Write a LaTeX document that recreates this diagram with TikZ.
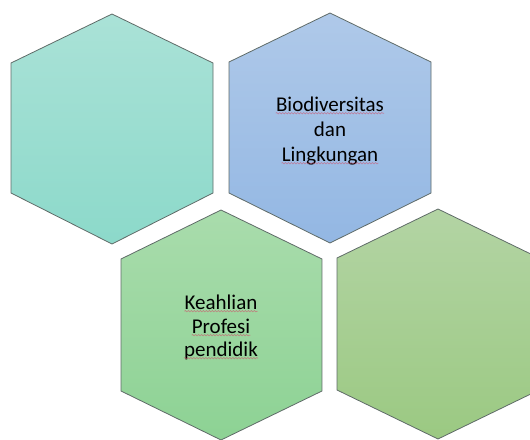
\documentclass[tikz,border=0pt]{standalone}
\usepackage{fontspec}
\setmainfont{Carlito}
\usetikzlibrary{decorations.pathmorphing}
\definecolor{tealtop}{HTML}{AAE2D7}\definecolor{tealbot}{HTML}{8CD9CA}
\definecolor{bluetop}{HTML}{AFC9E9}\definecolor{bluebot}{HTML}{93B7E3}
\definecolor{greentop}{HTML}{A9DCAC}\definecolor{greenbot}{HTML}{8DD294}
\definecolor{olivetop}{HTML}{B3D4A4}\definecolor{olivebot}{HTML}{9BC982}
\definecolor{hexline}{HTML}{5F6B68}
\definecolor{spell}{HTML}{D0506A}
\tikzset{
  hexa/.style={draw=hexline, line width=0.8pt, line join=miter},
  lbl/.style={inner sep=0pt, anchor=base, font=\fontsize{21}{24}\selectfont, text=black},
  squig/.style={draw=spell, draw opacity=0.6, line width=0.6pt,
    decorate, decoration={snake, amplitude=0.7pt, segment length=3pt}}
}
\begin{document}
\begin{tikzpicture}[x=1pt,y=-1pt]
\useasboundingbox (0,0) rectangle (530,439);
\clip (0,0) rectangle (530,439);
% hexagon 1 (teal)
\shade[hexa, top color=tealtop, bottom color=tealbot]
  (112,14) -- (213,63) -- (213,193) -- (112,244) -- (11,193) -- (11,63) -- cycle;
\coordinate (h1) at (112,129);
% hexagon 2 (blue)
\shade[hexa, top color=bluetop, bottom color=bluebot]
  (330,13) -- (431,62) -- (431,193) -- (330,243) -- (229,193) -- (229,62) -- cycle;
\coordinate (h2) at (330,128);
% hexagon 3 (green)
\shade[hexa, top color=greentop, bottom color=greenbot]
  (221,210) -- (322,259) -- (322,391) -- (221,440) -- (121,391) -- (121,259) -- cycle;
\coordinate (h3) at (221,325);
% hexagon 4 (olive green)
\shade[hexa, top color=olivetop, bottom color=olivebot]
  (438,209) -- (539,258) -- (539,390) -- (438,439) -- (337,390) -- (337,258) -- cycle;
\coordinate (h4) at (438,324);
% labels
\node[lbl] (b1) at (330,111) {Biodiversitas};
\node[lbl] (b2) at (330,136.5) {dan};
\node[lbl] (b3) at (330,161) {Lingkungan};
\node[lbl] (k1) at (221,309) {Keahlian};
\node[lbl] (k2) at (221,333) {Profesi};
\node[lbl] (k3) at (221,356) {pendidik};
% spell-check underlines
\foreach \n in {b1,b3,k1,k2,k3}{
  \draw[squig] ([yshift=-2.2pt]\n.base west) -- ([yshift=-2.2pt]\n.base east);
}
\end{tikzpicture}
\end{document}
